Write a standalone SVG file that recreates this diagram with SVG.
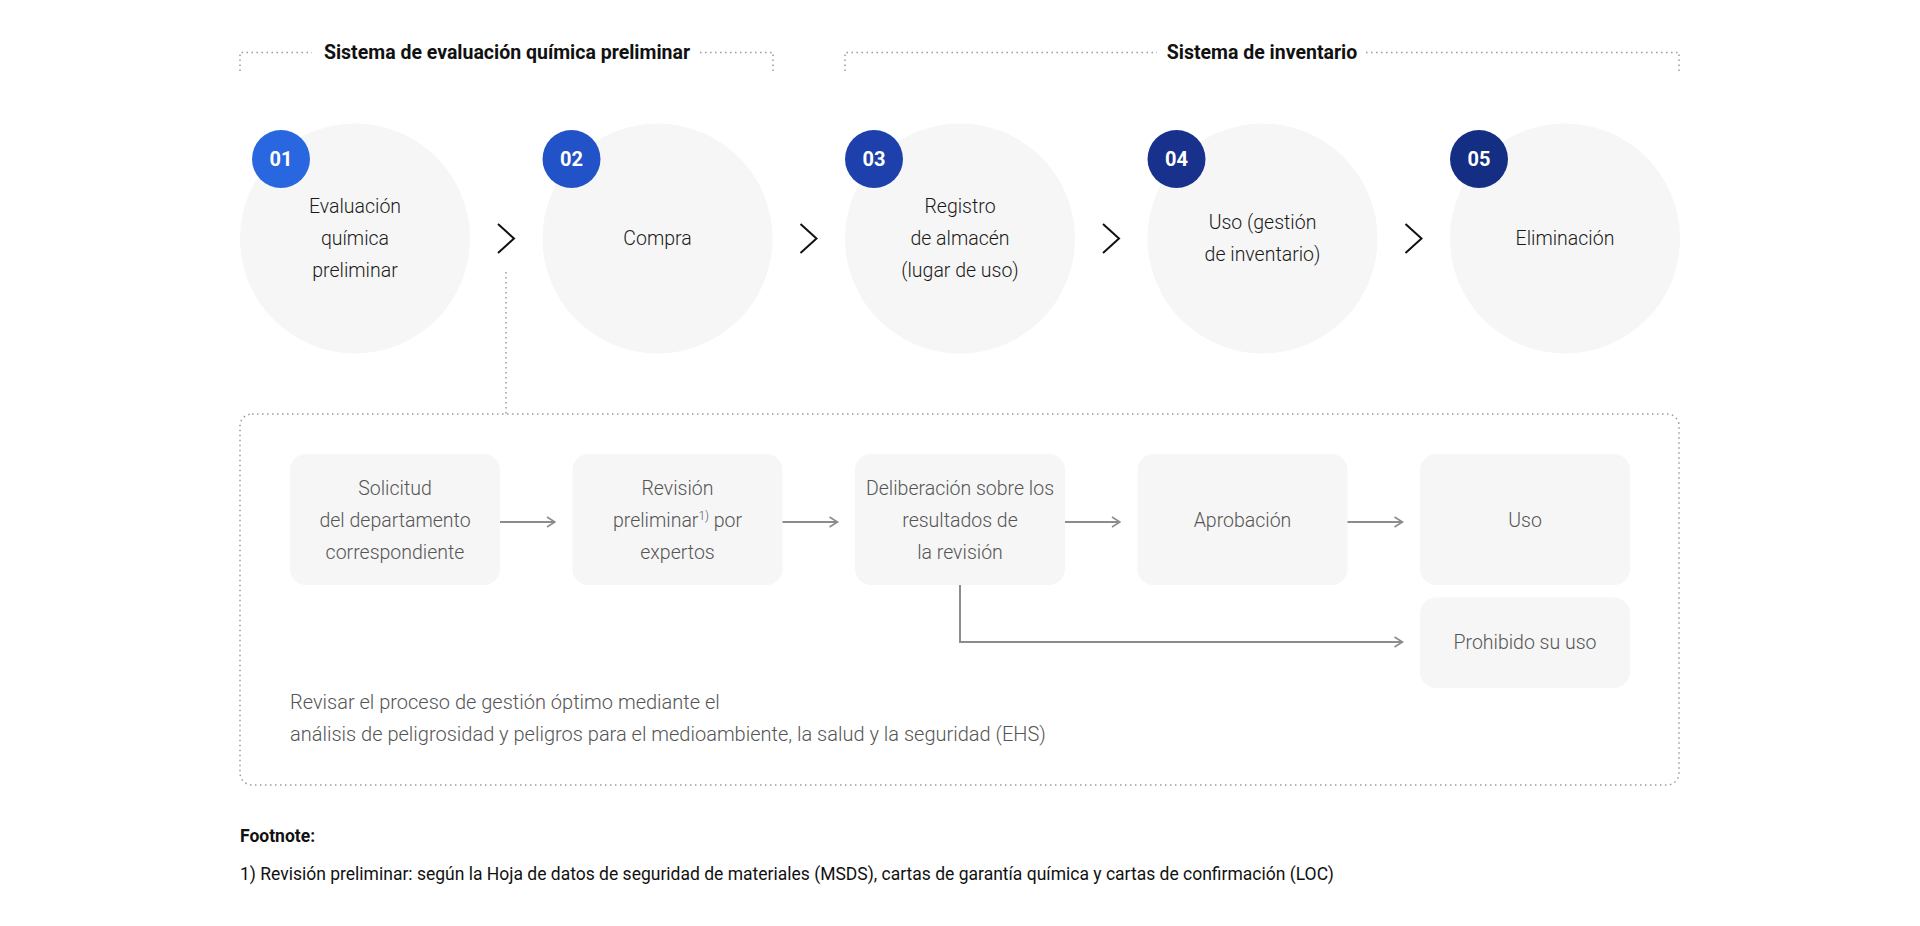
<svg xmlns="http://www.w3.org/2000/svg" width="1920" height="926" viewBox="0 0 1920 926">
<style>
.dot{fill:none;stroke:#9a9a9a;stroke-width:1.5;stroke-dasharray:1.5 3.5}
.circ{fill:#f6f6f6}
.badge-t{font-family:Roboto,"Liberation Sans",sans-serif;font-weight:700;font-size:20px;fill:#fff;text-anchor:middle}
.ct{font-family:Roboto,"Liberation Sans",sans-serif;font-weight:300;font-size:19.5px;fill:#1a1a1a;text-anchor:middle}
.box{fill:#f6f6f6}
.bt{font-family:Roboto,"Liberation Sans",sans-serif;font-weight:300;font-size:19.5px;fill:#555;text-anchor:middle}
.title{font-family:Roboto,"Liberation Sans",sans-serif;font-weight:700;font-size:19.5px;fill:#111;text-anchor:middle}
.chev{fill:none;stroke:#111;stroke-width:2}
.arr{fill:none;stroke:#8c8c8c;stroke-width:2;marker-end:url(#ah)}
.note{font-family:Roboto,"Liberation Sans",sans-serif;font-weight:300;font-size:20px;fill:#555}
.fn{font-family:Roboto,"Liberation Sans",sans-serif;font-size:17.5px;fill:#111}
</style>
<defs>
<marker id="ah" viewBox="0 0 10 12" refX="9" refY="6" markerWidth="10" markerHeight="12" markerUnits="userSpaceOnUse" orient="auto">
<path d="M1,1 L9,6 L1,11" fill="none" stroke="#8c8c8c" stroke-width="1.6"/>
</marker>
</defs>
<rect width="1920" height="926" fill="#fff"/>

<g id="bracket-1">
<path class="dot" d="M240,71 V52.5 H312 M700,52.5 H773 V71"/>
<text class="title" x="507" y="59">Sistema de evaluación química preliminar</text>
</g>
<g id="bracket-2">
<path class="dot" d="M845,71 V52.5 H1157 M1366,52.5 H1679 V71"/>
<text class="title" x="1262" y="59">Sistema de inventario</text>
</g>

<g id="step-01">
<circle class="circ" cx="355" cy="238.5" r="115"/>
<circle cx="281" cy="159" r="29" fill="#2967e0"/>
<text class="badge-t" x="281" y="166">01</text>
<text class="ct" x="355" y="213">Evaluación</text>
<text class="ct" x="355" y="245">química</text>
<text class="ct" x="355" y="277">preliminar</text>
</g>
<g id="step-02">
<circle class="circ" cx="657.5" cy="238.5" r="115"/>
<circle cx="571.5" cy="159" r="29" fill="#2252c8"/>
<text class="badge-t" x="571.5" y="166">02</text>
<text class="ct" x="657.5" y="245">Compra</text>
</g>
<g id="step-03">
<circle class="circ" cx="960" cy="238.5" r="115"/>
<circle cx="874" cy="159" r="29" fill="#1d40ad"/>
<text class="badge-t" x="874" y="166">03</text>
<text class="ct" x="960" y="213">Registro</text>
<text class="ct" x="960" y="245">de almacén</text>
<text class="ct" x="960" y="277">(lugar de uso)</text>
</g>
<g id="step-04">
<circle class="circ" cx="1262.5" cy="238.5" r="115"/>
<circle cx="1176.5" cy="159" r="29" fill="#17318c"/>
<text class="badge-t" x="1176.5" y="166">04</text>
<text class="ct" x="1262.5" y="229">Uso (gestión</text>
<text class="ct" x="1262.5" y="261">de inventario)</text>
</g>
<g id="step-05">
<circle class="circ" cx="1565" cy="238.5" r="115"/>
<circle cx="1479" cy="159" r="29" fill="#142e84"/>
<text class="badge-t" x="1479" y="166">05</text>
<text class="ct" x="1565" y="245">Eliminación</text>
</g>

<g id="detail-frame">
<rect class="dot" x="240" y="414" width="1439" height="371" rx="12"/>
</g>

<g id="box-solicitud">
<rect class="box" x="290" y="454" width="210" height="131" rx="16"/>
<text class="bt" x="395" y="495">Solicitud</text>
<text class="bt" x="395" y="527">del departamento</text>
<text class="bt" x="395" y="559">correspondiente</text>
</g>
<g id="box-revision">
<rect class="box" x="572.5" y="454" width="210" height="131" rx="16"/>
<text class="bt" x="677.5" y="495">Revisión</text>
<text class="bt" x="677.5" y="527">preliminar<tspan font-size="12" dy="-7">1)</tspan><tspan dy="7"> por</tspan></text>
<text class="bt" x="677.5" y="559">expertos</text>
</g>
<g id="box-deliberacion">
<rect class="box" x="855" y="454" width="210" height="131" rx="16"/>
<text class="bt" x="960" y="495">Deliberación sobre los</text>
<text class="bt" x="960" y="527">resultados de</text>
<text class="bt" x="960" y="559">la revisión</text>
</g>
<g id="box-aprobacion">
<rect class="box" x="1137.5" y="454" width="210" height="131" rx="16"/>
<text class="bt" x="1242.5" y="527">Aprobación</text>
</g>
<g id="box-uso">
<rect class="box" x="1420" y="454" width="210" height="131" rx="16"/>
<text class="bt" x="1525" y="527">Uso</text>
</g>
<g id="box-prohibido">
<rect class="box" x="1420" y="597.5" width="210" height="90.5" rx="16"/>
<text class="bt" x="1525" y="649">Prohibido su uso</text>
</g>

<g id="connectors">
<path class="chev" d="M498,224 L514,238.5 L498,253"/>
<path class="chev" d="M800.5,224 L816.5,238.5 L800.5,253"/>
<path class="chev" d="M1103,224 L1119,238.5 L1103,253"/>
<path class="chev" d="M1405.5,224 L1421.5,238.5 L1405.5,253"/>
<path class="dot" d="M506,272 V414"/>
<path class="arr" d="M500,522 H555"/>
<path class="arr" d="M782.5,522 H837.5"/>
<path class="arr" d="M1065,522 H1120"/>
<path class="arr" d="M1347.5,522 H1402.5"/>
<path class="arr" d="M960,585 V642 H1402.5"/>
</g>

<g id="note">
<text class="note" x="290" y="709">Revisar el proceso de gestión óptimo mediante el</text>
<text class="note" x="290" y="741">análisis de peligrosidad y peligros para el medioambiente, la salud y la seguridad (EHS)</text>
</g>
<g id="footnote">
<text class="fn" x="240" y="842" font-weight="700">Footnote:</text>
<text class="fn" x="240" y="880">1) Revisión preliminar: según la Hoja de datos de seguridad de materiales (MSDS), cartas de garantía química y cartas de confirmación (LOC)</text>
</g>
</svg>
